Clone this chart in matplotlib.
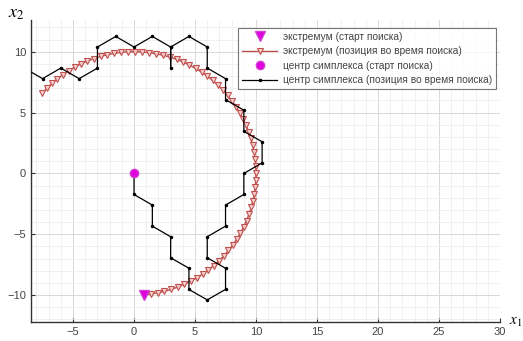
import numpy as np
import matplotlib.pyplot as plt
from matplotlib.ticker import MultipleLocator

plt.rcParams['font.family'] = ['Liberation Sans', 'DejaVu Sans']
plt.rcParams['mathtext.fontset'] = 'stix'

# экстремум: позиция во время поиска
ext_x = [0.78, 1.36, 1.93, 2.49, 3.04, 3.58, 4.12, 4.63, 5.14, 5.62,
         6.09, 6.53, 6.96, 7.36, 7.74, 8.09, 8.42, 8.71, 8.98, 9.22,
         9.43, 9.60, 9.75, 9.86, 9.94, 9.99, 10.00, 9.98, 9.93, 9.84,
         9.72, 9.57, 9.39, 9.18, 8.93, 8.66, 8.36, 8.03, 7.67, 7.29,
         6.88, 6.46, 6.00, 5.53, 5.05, 4.54, 4.02, 3.49, 2.94, 2.39,
         1.82, 1.25, 0.68, 0.10, -0.47, -1.05, -1.62, -2.18, -2.74, -3.29,
         -3.83, -4.35, -4.86, -5.36, -5.84, -6.29, -6.73, -7.15, -7.54]
ext_y = [-9.97, -9.91, -9.81, -9.69, -9.53, -9.34, -9.11, -8.86, -8.58, -8.27,
         -7.93, -7.57, -7.18, -6.77, -6.33, -5.88, -5.40, -4.91, -4.40, -3.88,
         -3.34, -2.79, -2.23, -1.67, -1.10, -0.52, 0.05, 0.63, 1.20, 1.77,
         2.33, 2.89, 3.44, 3.97, 4.49, 5.00, 5.49, 5.96, 6.41, 6.85,
         7.25, 7.64, 8.00, 8.33, 8.63, 8.91, 9.16, 9.37, 9.56, 9.71,
         9.83, 9.92, 9.98, 10.00, 9.99, 9.95, 9.87, 9.76, 9.62, 9.44,
         9.24, 9.00, 8.74, 8.44, 8.12, 7.77, 7.40, 7.00, 6.57]

# центр симплекса: позиция во время поиска
cen_x = [0, 0, 1.5, 1.5, 3, 3, 4.5, 4.5, 6, 7.5, 7.5, 6, 6, 7.5, 7.5, 9, 9,
         10.5, 10.5, 9, 9, 7.5, 7.5, 6, 6, 4.5, 3, 3, 3, 1.5, 0, -1.5, -3,
         -3, -4.5, -6, -7.5, -9]
cen_y = [0, -1.73, -2.6, -4.33, -5.2, -6.93, -7.79, -9.53, -10.39, -9.53,
         -7.79, -6.93, -5.2, -4.33, -2.6, -1.73, 0, 0.87, 2.6, 3.46, 5.2,
         6.06, 7.79, 8.66, 10.39, 11.26, 10.39, 8.66, 10.39, 11.26, 10.39,
         11.26, 10.39, 8.66, 7.79, 8.66, 7.79, 8.66]

labels = ['экстремум (старт поиска)',
          'экстремум (позиция во время поиска)',
          'центр симплекса (старт поиска)',
          'центр симплекса (позиция во время поиска)']

fig = plt.figure(figsize=(5.23, 3.41), dpi=100)
ax = fig.add_axes([0.059, 0.056, 0.897, 0.885])

ax.plot(ext_x[0], ext_y[0], linestyle='none', marker='v', markersize=7,
        color='#e000e0', markeredgecolor='#d040d0', label=labels[0], zorder=5)
ax.plot(ext_x, ext_y, color='#b8504c', linewidth=1.0, marker='v', markersize=5,
        markerfacecolor='#f6d0d0', markeredgecolor='#c0504d',
        markeredgewidth=0.8, label=labels[1], zorder=3)
ax.plot(cen_x[0], cen_y[0], linestyle='none', marker='o', markersize=6,
        color='#e000e0', markeredgecolor='#d040d0', label=labels[2], zorder=5)
ax.plot(cen_x, cen_y, color='black', linewidth=0.9, marker='.', markersize=3,
        label=labels[3], zorder=4)

ax.set_xlim(-8.46, 30)
ax.set_ylim(-12.2, 12.6)
ax.xaxis.set_major_locator(MultipleLocator(5))
ax.yaxis.set_major_locator(MultipleLocator(5))
ax.xaxis.set_minor_locator(MultipleLocator(1))
ax.yaxis.set_minor_locator(MultipleLocator(1))
ax.grid(which='major', color='#d8d8d8', linewidth=0.7)
ax.grid(which='minor', color='#ececec', linewidth=0.5)
ax.set_axisbelow(True)

for s in ['top', 'right']:
    ax.spines[s].set_visible(False)
for s in ['left', 'bottom']:
    ax.spines[s].set_color('#333333')
    ax.spines[s].set_linewidth(1.0)
ax.tick_params(which='major', direction='in', length=3, labelsize=8,
               labelcolor='#444444', color='#333333')
ax.tick_params(which='minor', length=0)

leg = ax.legend(loc='upper right', bbox_to_anchor=(0.992, 0.975),
                borderaxespad=0, fontsize=7.3, handlelength=3.4,
                frameon=True, fancybox=False, edgecolor='#555555',
                labelcolor='#444444', borderpad=0.4, labelspacing=0.45,
                handletextpad=0.6)
leg.get_frame().set_linewidth(0.8)

fig.text(0.015, 0.985, '$x_2$', fontsize=13, va='top', ha='left')
fig.text(0.998, 0.035, '$x_1$', fontsize=11, va='bottom', ha='right')

fig.savefig('out.png', dpi=100)
